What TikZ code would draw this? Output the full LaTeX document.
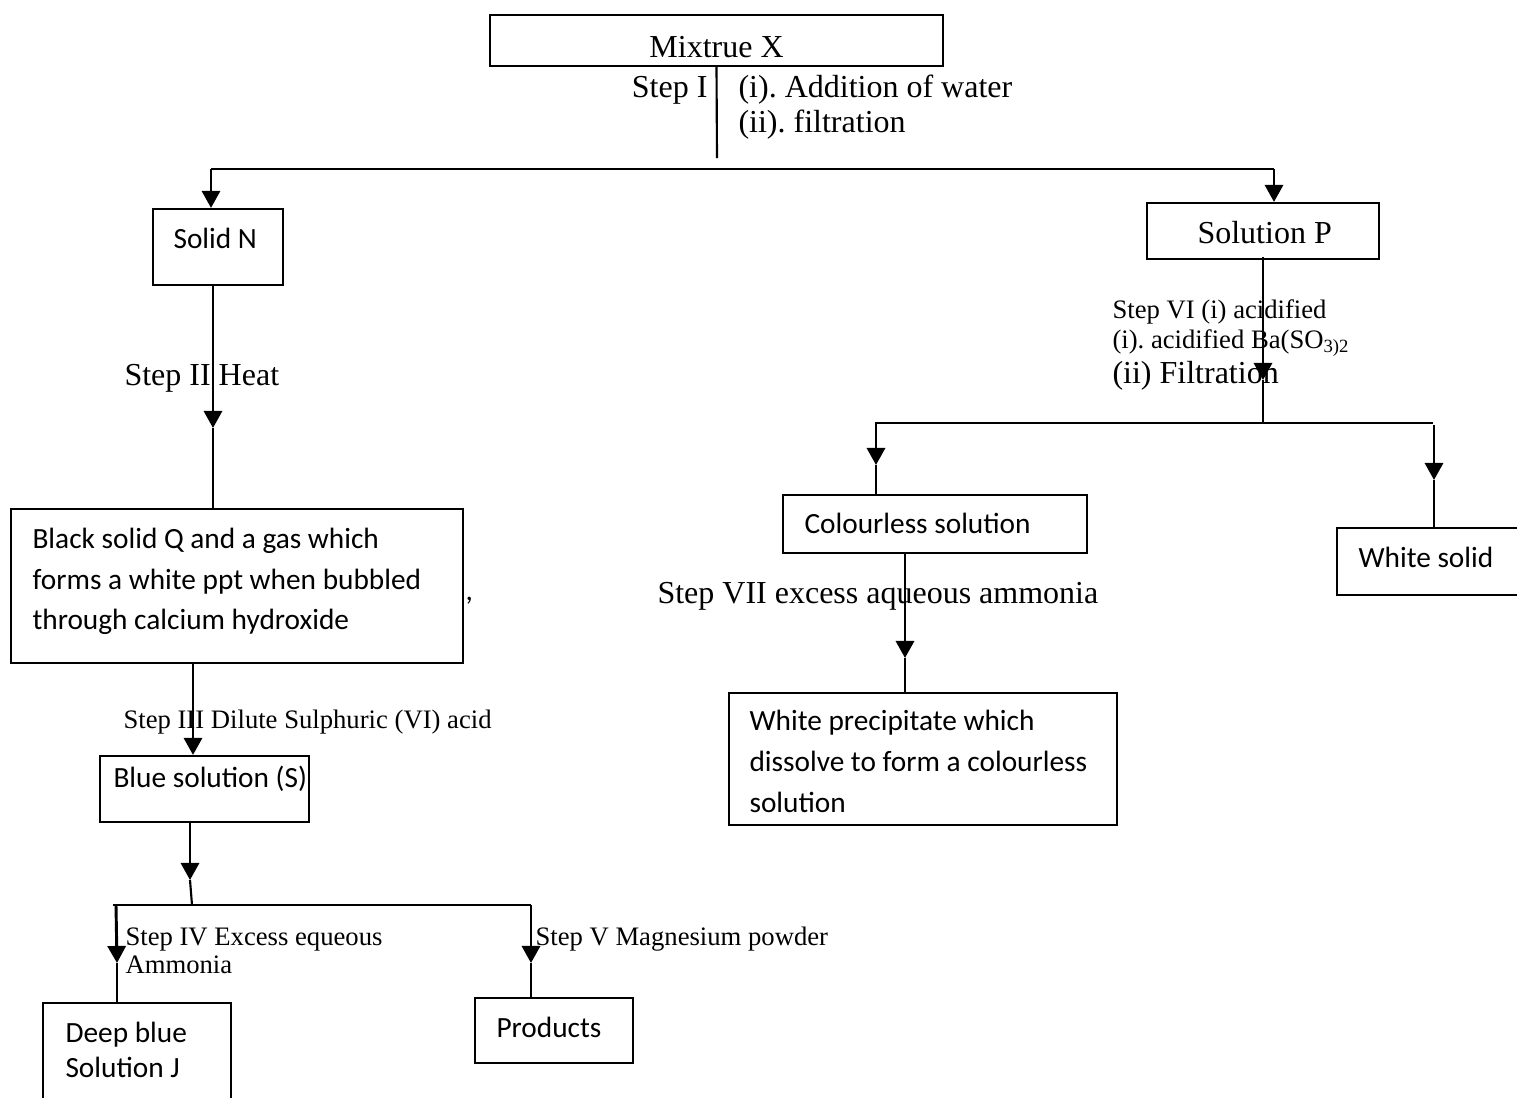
\documentclass[tikz,border=0pt]{standalone}
\usepackage{fontspec}
\setmainfont{Liberation Serif}
\newfontfamily\calib{Carlito}
\usetikzlibrary{arrows.meta,fit}
\frenchspacing
\tikzset{
  box/.style={draw, line width=0.8pt, inner sep=0pt},
  ln/.style={line width=0.8pt},
  arr/.style={line width=1.1pt, -{Triangle[width=6.8pt,length=6.4pt]}},
  tr/.style={font=\fontsize{12}{14}\selectfont, inner sep=0pt},
  ts/.style={font=\fontsize{10}{12}\selectfont, inner sep=0pt},
  cb/.style={font=\calib\fontsize{11}{13}\selectfont, inner sep=0pt},
}
\begin{document}
\begin{tikzpicture}[x=0.375pt,y=-0.375pt]
\useasboundingbox (0,0) rectangle (1517,1097);
% ---------- boxes ----------
\node[box, fit={(490,15) (943,66)}] (mix) {};
\node[box, fit={(153,209) (283,285)}] (solidN) {};
\node[box, fit={(1147,203) (1379,259)}] (solP) {};
\node[box, fit={(11,509) (463,663)}] (blackQ) {};
\node[box, fit={(100,756) (309,822)}] (blueS) {};
\node[box, fit={(43,1003) (231,1130)}] (deepJ) {};
\node[box, fit={(475,998) (633,1063)}] (prod) {};
\node[box, fit={(783,495) (1087,553)}] (colS) {};
\node[box, fit={(1337,528) (1535,595)}] (whiteS) {};
\node[box, fit={(729,693) (1117,825)}] (whiteP) {};
% ---------- box texts ----------
\node[tr, anchor=base] (mixT) at (716.5,57) {Mixtrue X};
\node[cb, anchor=base west] (solidNT) at (173,248) {Solid N};
\node[tr, anchor=base west] (solPT) at (1197,243) {Solution P};
\node[cb, anchor=base west] (bq1) at (32,548) {Black solid Q and a gas which};
\node[cb, anchor=base west] (bq2) at (32,589) {forms a white ppt when bubbled};
\node[cb, anchor=base west] (bq3) at (32,629) {through calcium hydroxide};
\node[cb, anchor=base west] (comma) at (465,600) {,};
\node[cb, anchor=base west] (blueT) at (113,787) {Blue solution (S)};
\node[cb, anchor=base west] (dj1) at (65,1042) {Deep blue};
\node[cb, anchor=base west] (dj2) at (65,1077) {Solution J};
\node[cb, anchor=base west] (prodT) at (496,1037) {Products};
\node[cb, anchor=base west] (colT) at (804,533) {Colourless solution};
\node[cb, anchor=base west] (whiteST) at (1358,567) {White solid};
\node[cb, anchor=base west] (wp1) at (749,730) {White precipitate which};
\node[cb, anchor=base west] (wp2) at (749,771) {dissolve to form a colourless};
\node[cb, anchor=base west] (wp3) at (749,812) {solution};
% ---------- step labels ----------
\node[tr, anchor=base east] (s1) at (708,97) {Step I};
\node[tr, anchor=base west] (s1a) at (738,97) {(i). Addition of water};
\node[tr, anchor=base west] (s1b) at (738,132) {(ii). filtration};
\node[tr, anchor=base west] (s2) at (124,385) {Step II Heat};
\node[ts, anchor=base west] (s3) at (123,728) {Step III Dilute Sulphuric (VI) acid};
\node[ts, anchor=base west] (s4a) at (125,945) {Step IV Excess equeous};
\node[ts, anchor=base west] (s4b) at (125,973) {Ammonia};
\node[ts, anchor=base west] (s5) at (535,945) {Step V Magnesium powder};
\node[ts, anchor=base west] (s6a) at (1112,318) {Step VI (i) acidified};
\node[ts, anchor=base west] (s6b) at (1112,348) {(i). acidified Ba(SO\textsubscript{3)2}};
\node[tr, anchor=base west] (s6c) at (1112,383) {(ii) Filtration};
\node[tr, anchor=base west] (s7) at (657,603) {Step VII excess aqueous ammonia};
% ---------- coordinates ----------
\coordinate (c1) at (717,158);
\coordinate (hL) at (211,169);
\coordinate (hR) at (1274,169);
\coordinate (t2) at (213,428);
\coordinate (x3) at (193,0);
\coordinate (t4) at (190,880);
\coordinate (j4) at (192,905);
\coordinate (hL2) at (113,905);
\coordinate (hR2) at (531,905);
\coordinate (d1) at (116,905);
\coordinate (t5) at (117,963);
\coordinate (t6) at (531,963);
\coordinate (t7) at (1263,380);
\coordinate (j7) at (1263,423);
\coordinate (hL3) at (875,423);
\coordinate (hR3) at (1433,423);
\coordinate (d8) at (876,423);
\coordinate (t8) at (876,465);
\coordinate (d9) at (1434,425);
\coordinate (t9) at (1434,480);
\coordinate (t10) at (905,658);
% ---------- connectors ----------
\draw[ln] (mix.south) -- (c1);
\draw[ln] (hL) -- (hR);
\draw[arr] (hL) -- (hL |- solidN.north);
\draw[arr] (hR) -- (hR |- solP.north);
\draw[arr] (solidN.south -| t2) -- (t2);
\draw[ln] (t2) -- (t2 |- blackQ.north);
\draw[arr] (blackQ.south -| x3) -- (blueS.north -| x3);
\draw[arr] (blueS.south -| t4) -- (t4);
\draw[ln] (t4) -- (j4);
\draw[ln] (hL2) -- (hR2);
\draw[arr] (d1) -- (t5);
\draw[ln] (t5) -- (t5 |- deepJ.north);
\draw[arr] (hR2) -- (t6);
\draw[ln] (t6) -- (t6 |- prod.north);
\draw[arr] ([yshift=1pt]solP.south -| t7) -- (t7);
\draw[ln] (t7) -- (j7);
\draw[ln] (hL3) -- (hR3);
\draw[arr] (d8) -- (t8);
\draw[ln] (t8) -- (t8 |- colS.north);
\draw[arr] (d9) -- (t9);
\draw[ln] (t9) -- (t9 |- whiteS.north);
\draw[arr] (colS.south -| t10) -- (t10);
\draw[ln] (t10) -- (t10 |- whiteP.north);
\end{tikzpicture}
\end{document}
